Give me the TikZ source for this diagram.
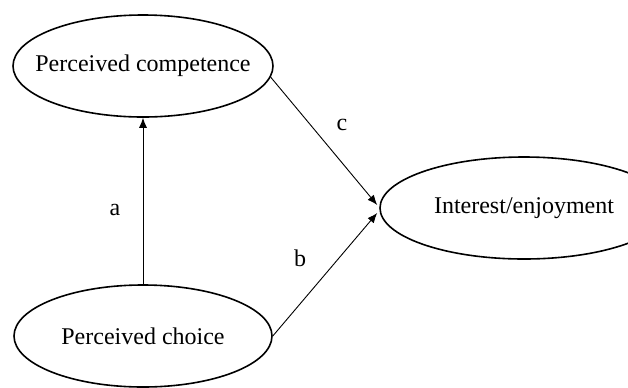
\documentclass[tikz,border=0pt]{standalone}
\usepackage{fontspec}
\setmainfont{Liberation Serif}
\usetikzlibrary{shapes.geometric, arrows.meta}

\begin{document}
\begin{tikzpicture}[x=0.5pt, y=-0.5pt, font=\fontsize{12}{14}\selectfont,
    factor/.style={line width=0.8pt, ellipse, draw, inner xsep=-12pt, minimum height=51pt},
    path/.style={line width=0.45pt, -{Latex[length=5pt, width=4pt]}}]
    \useasboundingbox (0, 0) rectangle (628, 387);

    \node[factor, minimum width=130pt] at (143, 66) (comp) {Perceived competence};
    \node[factor, minimum width=144pt] at (524, 208) (int) {Interest/enjoyment};
    \node[factor, minimum width=129pt] at (143, 336) (choice) {Perceived choice};

    \coordinate (tipc) at ([shift={(-2, -3)}]int.west);
    \coordinate (tipb) at ([shift={(-2, 5)}]int.west);

    \draw[path] (choice.north) to (comp.south);
    \draw[path] (comp.-5) to (tipc);
    \draw[path] (choice.east) to (tipb);

    \node at (115, 210) (la) {a};
    \node at (342, 125) (lc) {c};
    \node at (300, 258) (lb) {b};
\end{tikzpicture}
\end{document}
